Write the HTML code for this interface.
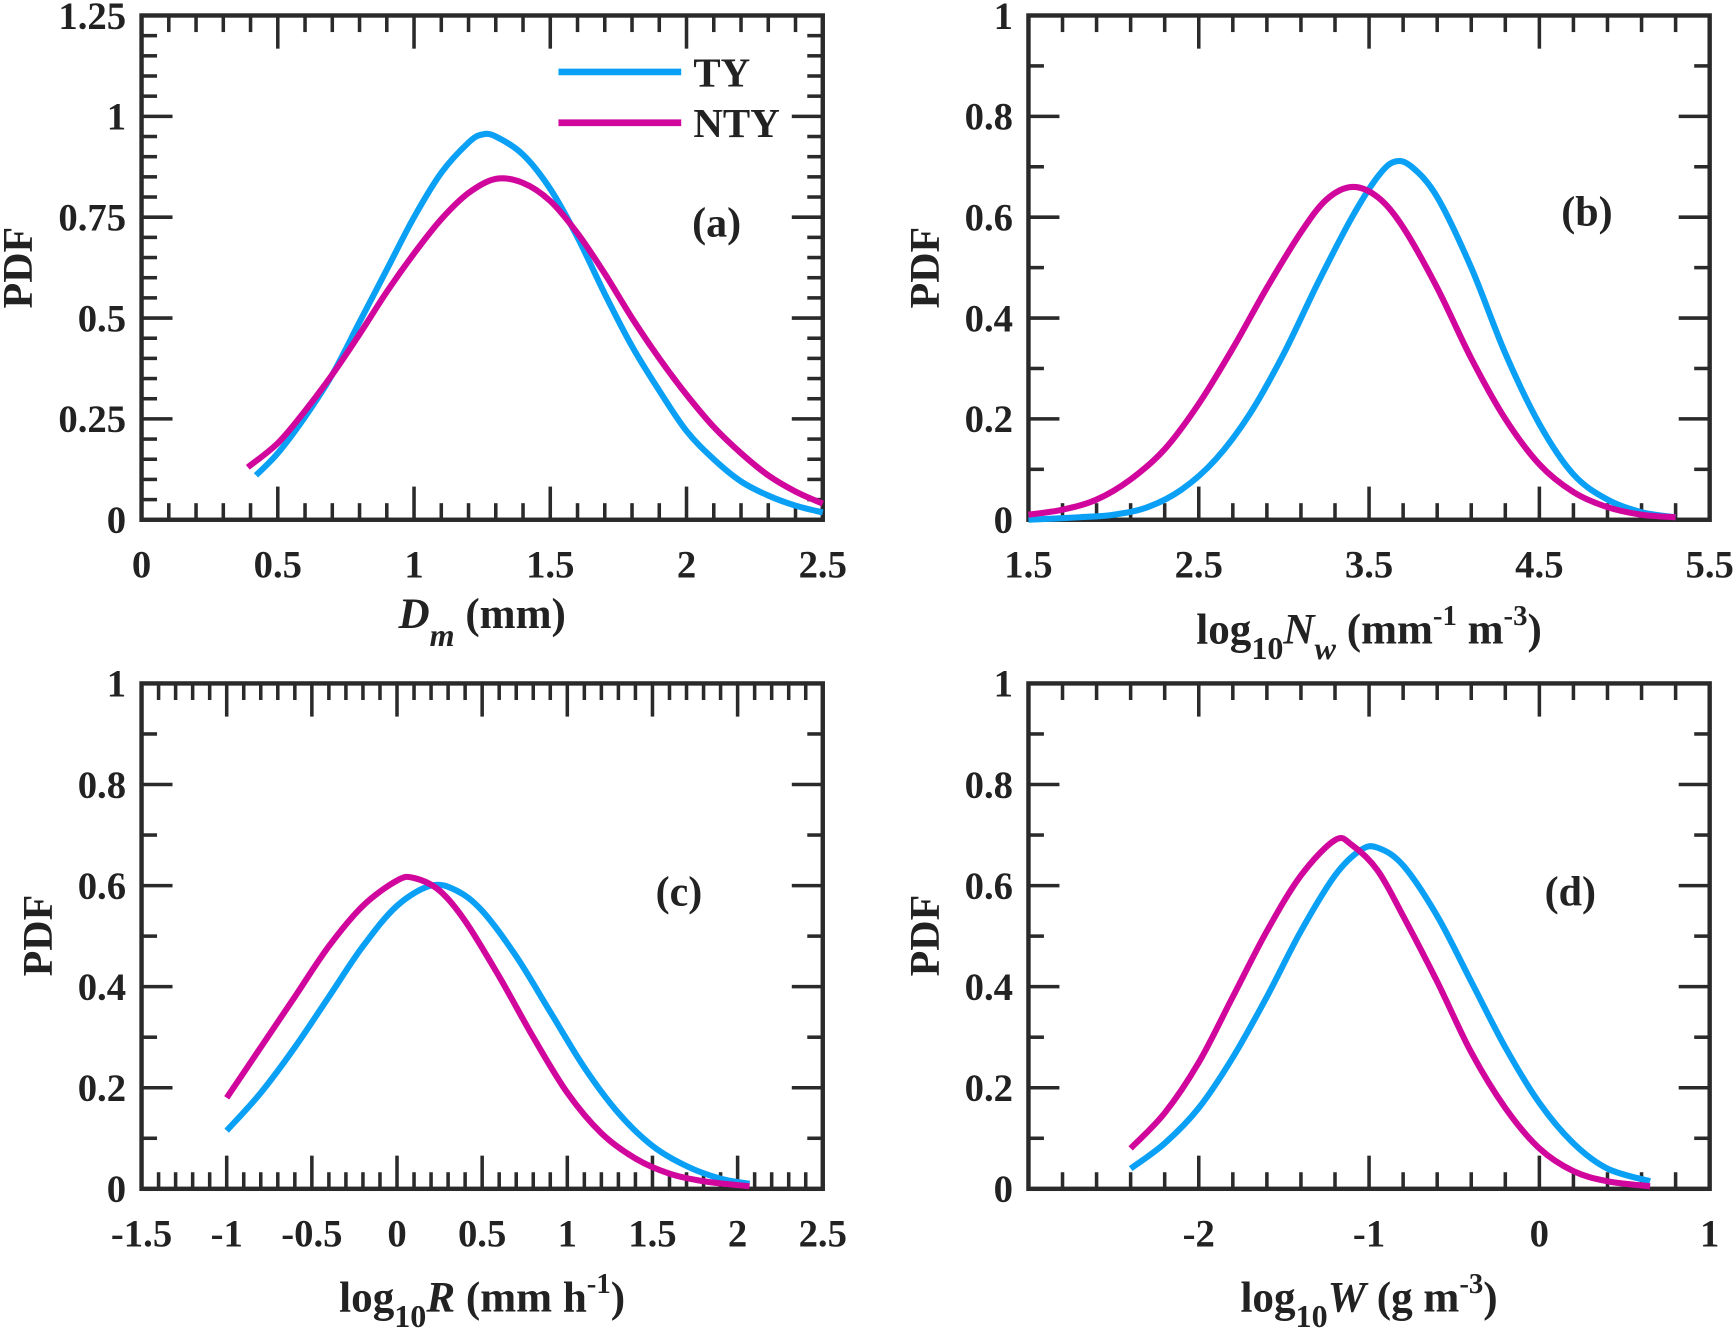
<!DOCTYPE html>
<html><head><meta charset="utf-8"><style>
html,body{margin:0;padding:0;background:#fff}
svg{display:block}
text{font-family:"Liberation Serif",serif;font-weight:bold;fill:#222}
</style></head><body>
<svg id="fig" width="1734" height="1337" viewBox="0 0 1568 1209" preserveAspectRatio="none" xmlns="http://www.w3.org/2000/svg"></svg>
<script>
// Panel (a) data
const aTYx=[0.42,0.5,0.6,0.7,0.8,0.9,1.0,1.1,1.2,1.25,1.3,1.4,1.5,1.6,1.7,1.8,1.9,2.0,2.1,2.2,2.3,2.4,2.5];
const aTYy=[0.11,0.165,0.255,0.36,0.49,0.62,0.75,0.86,0.935,0.955,0.95,0.905,0.82,0.70,0.56,0.43,0.32,0.22,0.15,0.095,0.06,0.035,0.018];
const aNTYx=[0.39,0.5,0.6,0.7,0.8,0.9,1.0,1.1,1.2,1.3,1.4,1.5,1.6,1.7,1.8,1.9,2.0,2.1,2.2,2.3,2.4,2.5];
const aNTYy=[0.13,0.19,0.27,0.36,0.46,0.565,0.66,0.745,0.81,0.845,0.835,0.79,0.71,0.61,0.50,0.40,0.31,0.23,0.165,0.11,0.07,0.04];
// Panel (b) data
const bTYx=[1.5,1.8,2.0,2.2,2.4,2.6,2.8,3.0,3.2,3.4,3.55,3.65,3.75,3.9,4.1,4.3,4.5,4.7,4.9,5.1,5.3];
const bTYy=[0,0.005,0.01,0.025,0.06,0.12,0.21,0.33,0.47,0.60,0.68,0.71,0.70,0.64,0.50,0.33,0.19,0.09,0.04,0.015,0.005];
const bNTYx=[1.5,1.7,1.9,2.1,2.3,2.5,2.7,2.9,3.1,3.25,3.4,3.55,3.7,3.9,4.1,4.3,4.5,4.7,4.9,5.1,5.3];
const bNTYy=[0.01,0.02,0.04,0.08,0.14,0.23,0.34,0.46,0.57,0.635,0.66,0.64,0.58,0.46,0.32,0.20,0.11,0.055,0.025,0.01,0.005];
// Panel (c) data
const cTYx=[-1,-0.8,-0.6,-0.4,-0.2,0,0.2,0.35,0.5,0.7,0.9,1.1,1.3,1.5,1.7,1.9,2.07];
const cTYy=[0.115,0.19,0.28,0.38,0.48,0.56,0.60,0.59,0.55,0.46,0.35,0.24,0.15,0.085,0.045,0.02,0.01];
const cNTYx=[-1,-0.8,-0.6,-0.4,-0.2,0,0.1,0.25,0.4,0.6,0.8,1.0,1.2,1.4,1.6,1.8,2.07];
const cNTYy=[0.18,0.28,0.38,0.48,0.56,0.61,0.615,0.59,0.53,0.42,0.30,0.19,0.11,0.06,0.03,0.015,0.005];
// Panel (d) data
const dTYx=[-2.4,-2.2,-2.0,-1.8,-1.6,-1.4,-1.2,-1.05,-0.95,-0.8,-0.6,-0.4,-0.2,0,0.2,0.4,0.65];
const dTYy=[0.04,0.09,0.16,0.26,0.38,0.51,0.62,0.67,0.675,0.64,0.54,0.41,0.28,0.17,0.09,0.04,0.015];
const dNTYx=[-2.4,-2.2,-2.0,-1.8,-1.6,-1.4,-1.2,-1.1,-0.95,-0.8,-0.6,-0.4,-0.2,0,0.2,0.4,0.65];
const dNTYy=[0.08,0.15,0.25,0.38,0.51,0.62,0.69,0.68,0.63,0.54,0.41,0.27,0.16,0.08,0.035,0.015,0.005];
// tick labels
const aXT=["0","0.5","1","1.5","2","2.5"], aYT=["0","0.25","0.5","0.75","1","1.25"];
const bXT=["1.5","2.5","3.5","4.5","5.5"], bYT=["0","0.2","0.4","0.6","0.8","1"];
const cXT=["-1.5","-1","-0.5","0","0.5","1","1.5","2","2.5"], cYT=["0","0.2","0.4","0.6","0.8","1"];
const dXT=["-2","-1","0","1"], dYT=["0","0.2","0.4","0.6","0.8","1"];

const NS="http://www.w3.org/2000/svg";
const svg=document.getElementById('fig');
const BLUE="#0aa0f5", MAG="#d1069c", AX="#2a2a2a";
function mk(tag,attrs,parent){const e=document.createElementNS(NS,tag);for(const k in attrs)e.setAttribute(k,attrs[k]);(parent||svg).appendChild(e);return e;}

function panel(cfg){
  const g=mk('g',{});
  
  
  const {L,R,T,B,x0,x1,y0,y1}=cfg;
  const sx=v=>L+(v-x0)/(x1-x0)*(R-L);
  const sy=v=>B-(v-y0)/(y1-y0)*(B-T);
  const eps=1e-6;
  for(let i=0;;i++){const v=x0+i*cfg.xmin; if(v>x1+eps)break;
    const maj=Math.abs(((v-cfg.xmajStart)/cfg.xmaj)-Math.round((v-cfg.xmajStart)/cfg.xmaj))<1e-4;
    const len=maj?30:15; const x=sx(v);
    mk('line',{x1:x,x2:x,y1:B,y2:B-len,stroke:AX,'stroke-width':3.2},g);
    mk('line',{x1:x,x2:x,y1:T,y2:T+len,stroke:AX,'stroke-width':3.2},g);}
  for(let i=0;;i++){const v=y0+i*cfg.ymin; if(v>y1+eps)break;
    const maj=Math.abs((v/cfg.ymaj)-Math.round(v/cfg.ymaj))<1e-4;
    const len=maj?28:14; const y=sy(v);
    mk('line',{x1:L,x2:L+len,y1:y,y2:y,stroke:AX,'stroke-width':3.2},g);
    mk('line',{x1:R,x2:R-len,y1:y,y2:y,stroke:AX,'stroke-width':3.2},g);}
  const fr=mk('rect',{x:L,y:T,width:R-L,height:B-T,fill:'none',stroke:AX,'stroke-width':4},g);
  
  
  cfg.xt.forEach((t,i)=>{const v=cfg.xtStart+i*cfg.xmaj;
    const e=mk('text',{x:sx(v),y:B+52,'text-anchor':'middle','font-size':35},g);e.textContent=t;
    
    });
  cfg.yt.forEach((t,i)=>{const v=i*cfg.ymaj;
    const e=mk('text',{x:L-14,y:sy(v)+12,'text-anchor':'end','font-size':35},g);e.textContent=t;
    
    });
  cfg.series.forEach(s=>{
    const P=s.x.map((v,i)=>[sx(v),sy(s.y[i])]);
    let d='M'+P[0][0]+','+P[0][1];
    for(let i=0;i<P.length-1;i++){const p0=P[Math.max(0,i-1)],p1=P[i],p2=P[i+1],p3=P[Math.min(P.length-1,i+2)];
      const c1=[p1[0]+(p2[0]-p0[0])/6,p1[1]+(p2[1]-p0[1])/6],c2=[p2[0]-(p3[0]-p1[0])/6,p2[1]-(p3[1]-p1[1])/6];
      d+=` C${c1[0]},${c1[1]} ${c2[0]},${c2[1]} ${p2[0]},${p2[1]}`;}
    const p=mk('path',{d:d,fill:'none',stroke:s.c,'stroke-width':5.5},g);
    
    });
  const yl=mk('text',{x:0,y:0,'text-anchor':'middle','font-size':38,transform:`translate(${cfg.yl[0]},${cfg.yl[1]}) rotate(-90)`},g);
  yl.textContent='PDF';
  
  
  const xl=mk('text',{x:(L+R)/2,y:cfg.xly,'text-anchor':'middle','font-size':39},g);
  xl.innerHTML=cfg.xlab;
  
  
  const pl=mk('text',{x:cfg.pl[0],y:cfg.pl[1],'text-anchor':'middle','font-size':38},g);
  pl.textContent=cfg.plt;
  
  
  return g;
}
panel({name:'panel-a',L:128,R:744,T:14,B:470,x0:0,x1:2.5,y0:0,y1:1.25,xmin:0.1,xmaj:0.5,xmajStart:0,xtStart:0,ymin:0.05,ymaj:0.25,
  xt:aXT,yt:aYT,yl:[29,242],xly:568,pl:[648,214],plt:'(a)',
  xlab:'<tspan font-style="italic">D</tspan><tspan font-style="italic" font-size="29" dy="16">m</tspan><tspan dy="-16"> (mm)</tspan>',
  series:[{x:aTYx,y:aTYy,c:BLUE,n:'ty-curve-a'},{x:aNTYx,y:aNTYy,c:MAG,n:'nty-curve-a'}]});
panel({name:'panel-b',L:930,R:1546,T:14,B:470,x0:1.5,x1:5.5,y0:0,y1:1,xmin:0.2,xmaj:1,xmajStart:1.5,xtStart:1.5,ymin:0.1,ymaj:0.2,
  xt:bXT,yt:bYT,yl:[849,242],xly:582,pl:[1435,204],plt:'(b)',
  xlab:'log<tspan font-size="29" dy="14">10</tspan><tspan dy="-14" font-style="italic">N</tspan><tspan font-style="italic" font-size="29" dy="14">w</tspan><tspan dy="-14"> (mm</tspan><tspan font-size="26" dy="-17">-1</tspan><tspan dy="17"> m</tspan><tspan font-size="26" dy="-17">-3</tspan><tspan dy="17">)</tspan>',
  series:[{x:bTYx,y:bTYy,c:BLUE,n:'ty-curve-b'},{x:bNTYx,y:bNTYy,c:MAG,n:'nty-curve-b'}]});
panel({name:'panel-c',L:128,R:744,T:618,B:1075,x0:-1.5,x1:2.5,y0:0,y1:1,xmin:0.1,xmaj:0.5,xmajStart:-1.5,xtStart:-1.5,ymin:0.1,ymaj:0.2,
  xt:cXT,yt:cYT,yl:[47,846],xly:1186,pl:[614,819],plt:'(c)',
  xlab:'log<tspan font-size="29" dy="14">10</tspan><tspan dy="-14" font-style="italic">R</tspan><tspan> (mm h</tspan><tspan font-size="26" dy="-17">-1</tspan><tspan dy="17">)</tspan>',
  series:[{x:cTYx,y:cTYy,c:BLUE,n:'ty-curve-c'},{x:cNTYx,y:cNTYy,c:MAG,n:'nty-curve-c'}]});
panel({name:'panel-d',L:930,R:1546,T:618,B:1075,x0:-3,x1:1,y0:0,y1:1,xmin:0.2,xmaj:1,xmajStart:-3,xtStart:-2,ymin:0.1,ymaj:0.2,
  xt:dXT,yt:dYT,yl:[849,846],xly:1186,pl:[1420,819],plt:'(d)',
  xlab:'log<tspan font-size="29" dy="14">10</tspan><tspan dy="-14" font-style="italic">W</tspan><tspan> (g m</tspan><tspan font-size="26" dy="-17">-3</tspan><tspan dy="17">)</tspan>',
  series:[{x:dTYx,y:dTYy,c:BLUE,n:'ty-curve-d'},{x:dNTYx,y:dNTYy,c:MAG,n:'nty-curve-d'}]});
const lg=mk('g',{});


mk('line',{x1:505,x2:616,y1:65,y2:65,stroke:BLUE,'stroke-width':6},lg);
mk('line',{x1:505,x2:616,y1:111,y2:111,stroke:MAG,'stroke-width':6},lg);
const t1=mk('text',{x:627,y:78,'font-size':37},lg);t1.textContent='TY';


const t2=mk('text',{x:627,y:124,'font-size':37},lg);t2.textContent='NTY';


</script>
</body></html>
